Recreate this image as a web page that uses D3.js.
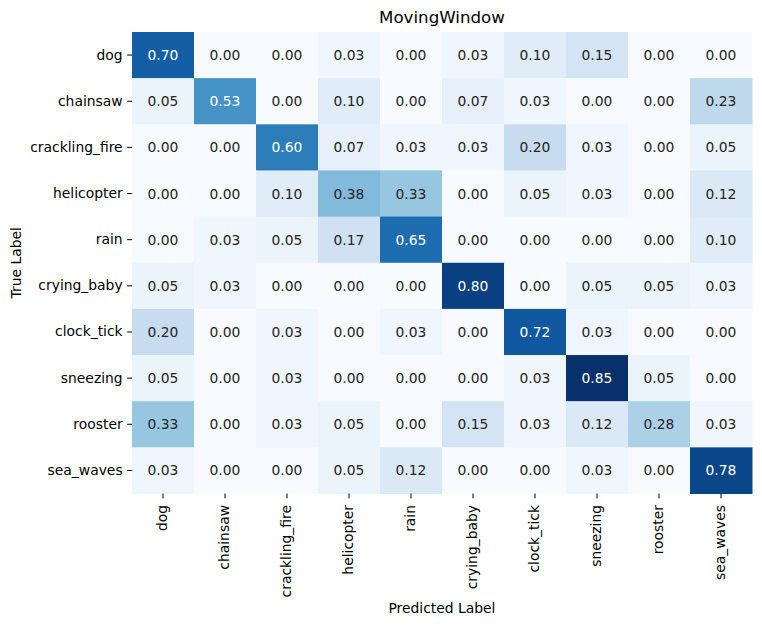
<!DOCTYPE html>
<html>
<head>
<meta charset="utf-8">
<script src="https://cdn.jsdelivr.net/npm/d3@7"></script>
<style>
  body { margin: 0; background: #fff; }
  text { font-family: "DejaVu Sans", sans-serif; }
</style>
</head>
<body>
<div id="heatmap"></div>
<script>
const classes = ["dog", "chainsaw", "crackling_fire", "helicopter", "rain",
  "crying_baby", "clock_tick", "sneezing", "rooster", "sea_waves"];

const dog = [0.70, 0.00, 0.00, 0.03, 0.00, 0.03, 0.10, 0.15, 0.00, 0.00];
const chainsaw = [0.05, 0.53, 0.00, 0.10, 0.00, 0.07, 0.03, 0.00, 0.00, 0.23];
const cracklingFire = [0.00, 0.00, 0.60, 0.07, 0.03, 0.03, 0.20, 0.03, 0.00, 0.05];
const helicopter = [0.00, 0.00, 0.10, 0.38, 0.33, 0.00, 0.05, 0.03, 0.00, 0.12];
const rain = [0.00, 0.03, 0.05, 0.17, 0.65, 0.00, 0.00, 0.00, 0.00, 0.10];
const cryingBaby = [0.05, 0.03, 0.00, 0.00, 0.00, 0.80, 0.00, 0.05, 0.05, 0.03];
const clockTick = [0.20, 0.00, 0.03, 0.00, 0.03, 0.00, 0.72, 0.03, 0.00, 0.00];
const sneezing = [0.05, 0.00, 0.03, 0.00, 0.00, 0.00, 0.03, 0.85, 0.05, 0.00];
const rooster = [0.33, 0.00, 0.03, 0.05, 0.00, 0.15, 0.03, 0.12, 0.28, 0.03];
const seaWaves = [0.03, 0.00, 0.00, 0.05, 0.12, 0.00, 0.00, 0.03, 0.00, 0.78];

const rows = [dog, chainsaw, cracklingFire, helicopter, rain,
  cryingBaby, clockTick, sneezing, rooster, seaWaves];

const width = 762, height = 626;
const margin = { top: 32, right: 10, bottom: 132.5, left: 132 };
const innerWidth = width - margin.left - margin.right;
const innerHeight = height - margin.top - margin.bottom;
const fs = "13.89px";

const cells = [];
rows.forEach((r, i) => r.forEach((v, j) => cells.push({ t: classes[i], p: classes[j], v })));

const svg = d3.select("#heatmap")
  .append("svg")
  .attr("width", width)
  .attr("height", height);

const inner = svg.append("g")
  .attr("transform", `translate(${margin.left}, ${margin.top})`);

// scales
const xScale = d3.scaleBand().domain(classes).range([0, innerWidth]);
const yScale = d3.scaleBand().domain(classes).range([0, innerHeight]);
const colorScale = d3.scaleSequential(d3.interpolateBlues)
  .domain([0, d3.max(cells, d => d.v)]);

const lum = c => {
  const rgb = d3.rgb(c);
  const f = x => { x /= 255; return x <= 0.03928 ? x / 12.92 : Math.pow((x + 0.055) / 1.055, 2.4); };
  return 0.2126 * f(rgb.r) + 0.7152 * f(rgb.g) + 0.0722 * f(rgb.b);
};

// cells
inner.selectAll("rect")
  .data(cells)
  .enter()
  .append("rect")
  .attr("x", d => xScale(d.p))
  .attr("y", d => yScale(d.t))
  .attr("width", xScale.bandwidth() + 0.5)
  .attr("height", yScale.bandwidth() + 0.5)
  .attr("fill", d => colorScale(d.v));

// annotations
inner.selectAll("text.val")
  .data(cells)
  .enter()
  .append("text")
  .attr("class", "val")
  .attr("x", d => xScale(d.p) + xScale.bandwidth() / 2)
  .attr("y", d => yScale(d.t) + yScale.bandwidth() / 2)
  .attr("dy", "0.36em")
  .attr("text-anchor", "middle")
  .attr("font-size", fs)
  .attr("fill", d => lum(colorScale(d.v)) > 0.408 ? "#262626" : "#ffffff")
  .text(d => d.v.toFixed(2));

// x axis
const xAxis = inner.append("g")
  .attr("transform", `translate(0, ${innerHeight})`)
  .call(d3.axisBottom(xScale).tickSize(4.86).tickPadding(5));
xAxis.select(".domain").remove();
xAxis.selectAll("text")
  .attr("font-size", fs)
  .attr("fill", "#000")
  .attr("transform", "rotate(-90)")
  .attr("text-anchor", "end")
  .attr("dy", "0.32em")
  .attr("x", -11.5)
  .attr("y", 0);

// y axis
const yAxis = inner.append("g")
  .call(d3.axisLeft(yScale).tickSize(4.86).tickPadding(4.5));
yAxis.select(".domain").remove();
yAxis.selectAll("text")
  .attr("font-size", fs)
  .attr("fill", "#000");

// title
svg.append("text")
  .attr("x", margin.left + innerWidth / 2)
  .attr("y", 23)
  .attr("text-anchor", "middle")
  .attr("font-size", "16.67px")
  .text("MovingWindow");

// x label
svg.append("text")
  .attr("x", margin.left + innerWidth / 2)
  .attr("y", 613)
  .attr("text-anchor", "middle")
  .attr("font-size", fs)
  .text("Predicted Label");

// y label
svg.append("text")
  .attr("transform", "rotate(-90)")
  .attr("x", -(margin.top + innerHeight / 2))
  .attr("y", 21)
  .attr("text-anchor", "middle")
  .attr("font-size", fs)
  .text("True Label");
</script>
</body>
</html>
